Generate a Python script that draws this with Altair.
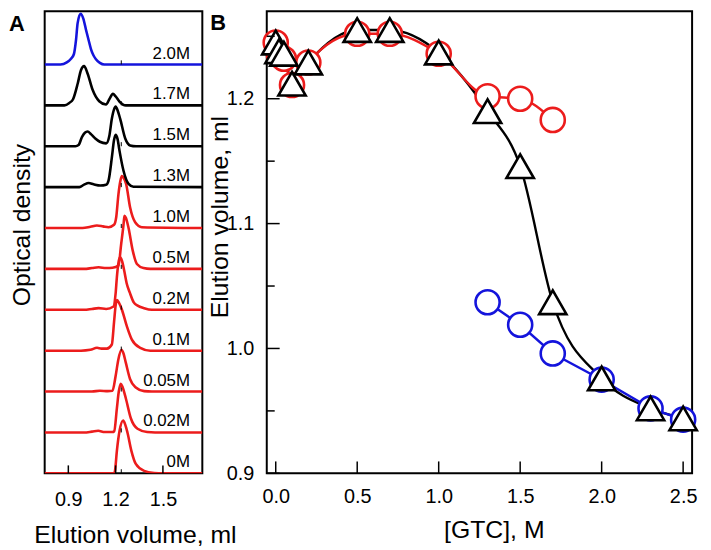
import altair as alt
import pandas as pd

FONT = "Liberation Sans"
RED = "#ec1c1c"
BLUE = "#1414dc"

# ---------------- Panel A: elution profiles (x = elution volume, ml; h = peak height) ----------------
trace_labels = ["0M", "0.02M", "0.05M", "0.1M", "0.2M", "0.5M", "1.0M", "1.3M", "1.5M", "1.7M", "2.0M"]
trace_state = ["low", "low", "low", "low", "low", "low", "low", "mid", "mid", "mid", "high"]

x_0 = [0.75, 1.15, 1.19, 1.196, 1.208, 1.225, 1.248, 1.262, 1.275, 1.30, 1.328, 1.381, 1.444, 1.50, 1.75]
h_0 = [0, 0, 0, 0.06, 0.55, 1.04, 1.29, 1.18, 1.0, 0.55, 0.23, 0.06, 0.01, 0, 0]

x_002 = [0.75, 1.0, 1.05, 1.09, 1.13, 1.18, 1.191, 1.208, 1.22, 1.233, 1.245, 1.265, 1.297, 1.339, 1.40, 1.45, 1.75]
h_002 = [0, 0, 0.02, 0.04, 0.01, 0.01, 0.03, 0.59, 1.0, 1.19, 1.1, 0.83, 0.34, 0.09, 0.01, 0, 0]

x_005 = [0.75, 1.05, 1.10, 1.15, 1.18, 1.20, 1.217, 1.237, 1.25, 1.265, 1.292, 1.328, 1.381, 1.43, 1.75]
h_005 = [0, 0, 0.02, 0.01, 0.02, 0.38, 0.78, 1.02, 0.93, 0.7, 0.3, 0.1, 0.01, 0, 0]

x_01 = [0.75, 0.98, 1.04, 1.082, 1.11, 1.145, 1.176, 1.19, 1.20, 1.208, 1.22, 1.24, 1.271, 1.303, 1.356, 1.42, 1.75]
h_01 = [0, 0, 0.02, 0.07, 0.05, 0.05, 0.15, 0.7, 1.1, 1.24, 1.18, 1.0, 0.6, 0.27, 0.07, 0, 0]

x_02 = [0.75, 1.0, 1.05, 1.092, 1.14, 1.187, 1.20, 1.208, 1.218, 1.228, 1.24, 1.255, 1.27, 1.29, 1.315, 1.34, 1.38, 1.43, 1.75]
h_02 = [0, 0, 0.02, 0.04, 0.02, 0.08, 0.4, 0.8, 1.15, 1.29, 1.2, 0.95, 0.65, 0.42, 0.18, 0.1, 0.04, 0, 0]

x_05 = [0.75, 1.0, 1.05, 1.092, 1.14, 1.18, 1.218, 1.235, 1.25, 1.256, 1.265, 1.282, 1.309, 1.335, 1.377, 1.42, 1.75]
h_05 = [0, 0, 0.02, 0.04, 0.02, 0.03, 0.08, 0.6, 1.08, 1.3, 1.25, 1.0, 0.44, 0.12, 0.02, 0, 0]

x_10 = [0.75, 0.99, 1.04, 1.081, 1.12, 1.155, 1.19, 1.204, 1.218, 1.23, 1.24, 1.252, 1.267, 1.292, 1.324, 1.366, 1.75]
h_10 = [0, 0, 0.03, 0.06, 0.04, 0.02, 0.08, 0.27, 0.83, 1.15, 1.27, 1.22, 1.07, 0.5, 0.14, 0.02, 0]

x_13 = [0.75, 0.97, 1.0, 1.029, 1.06, 1.103, 1.14, 1.155, 1.176, 1.19, 1.20, 1.212, 1.225, 1.25, 1.282, 1.313, 1.75]
h_13 = [0, 0, 0.06, 0.1, 0.07, 0.04, 0.06, 0.16, 0.72, 1.15, 1.28, 1.18, 0.88, 0.4, 0.08, 0.01, 0]

x_15 = [0.75, 0.945, 0.965, 0.987, 1.005, 1.022, 1.045, 1.071, 1.10, 1.14, 1.16, 1.176, 1.19, 1.20, 1.215, 1.229, 1.261, 1.292, 1.33, 1.75]
h_15 = [0, 0, 0.03, 0.23, 0.33, 0.36, 0.29, 0.19, 0.11, 0.07, 0.25, 0.67, 0.9, 0.97, 0.85, 0.67, 0.19, 0.02, 0, 0]

x_17 = [0.75, 0.875, 0.906, 0.93, 0.96, 0.98, 1.0, 1.022, 1.054, 1.096, 1.139, 1.16, 1.183, 1.20, 1.223, 1.265, 1.75]
h_17 = [0, 0, 0.06, 0.15, 0.54, 0.86, 0.96, 0.78, 0.38, 0.1, 0.02, 0.15, 0.28, 0.22, 0.1, 0, 0]

x_20 = [0.75, 0.85, 0.89, 0.917, 0.935, 0.949, 0.959, 0.978, 0.995, 1.012, 1.033, 1.044, 1.06, 1.075, 1.10, 1.128, 1.75]
h_20 = [0, 0, 0.05, 0.14, 0.25, 0.61, 1.01, 1.24, 1.12, 0.85, 0.53, 0.37, 0.22, 0.13, 0.04, 0, 0]

trace_x = [x_0, x_002, x_005, x_01, x_02, x_05, x_10, x_13, x_15, x_17, x_20]
trace_h = [h_0, h_002, h_005, h_01, h_02, h_05, h_10, h_13, h_15, h_17, h_20]

native_peak = 1.236            # small reference mark drawn on every baseline
a_ticks = [0.9, 1.2, 1.5]

# ---------------- Panel B: elution volume vs [GTC] ----------------
gtc_red = [0.0, 0.02, 0.05, 0.1, 0.2, 0.5, 0.7, 1.0, 1.3, 1.5, 1.7]
ve_red = [1.245, 1.235, 1.232, 1.211, 1.229, 1.252, 1.252, 1.236, 1.202, 1.200, 1.183]
gtc_blue = [1.3, 1.5, 1.7, 2.0, 2.3, 2.5]
ve_blue = [1.037, 1.019, 0.996, 0.975, 0.952, 0.943]
gtc_tri = [0.0, 0.02, 0.05, 0.1, 0.2, 0.5, 0.7, 1.0, 1.3, 1.5, 1.7, 2.0, 2.3, 2.5]
ve_tri = [1.245, 1.238, 1.236, 1.212, 1.229, 1.255, 1.255, 1.237, 1.190, 1.146, 1.037, 0.976, 0.952, 0.944]

b_xticks = [0.0, 0.5, 1.0, 1.5, 2.0, 2.5]
b_yticks = [0.9, 1.0, 1.1, 1.2]
b_yminor = [0.95, 1.05, 1.15, 1.25]

# ---------------- build tables ----------------
rows = []
for i, (xs, hs) in enumerate(zip(trace_x, trace_h)):
    for xv, hv in zip(xs, hs):
        rows.append({"trace": trace_labels[i], "state": trace_state[i], "x": xv, "y": i + hv})
df_tr = pd.DataFrame(rows)
df_lab = pd.DataFrame({"label": trace_labels, "x": [1.672] * len(trace_labels), "y": list(range(len(trace_labels)))})
df_mk = pd.DataFrame({"x": [native_peak] * len(trace_labels),
                      "y": [float(i) for i in range(len(trace_labels))],
                      "y2": [i + 0.1 for i in range(len(trace_labels))]})

W_A, W_B, H = 159, 429, 466

xA_scale = alt.Scale(domain=[0.75, 1.75], nice=False, zero=False)
yA_scale = alt.Scale(domain=[0, 11.3], nice=False, zero=False)

xA_axis = alt.Axis(values=a_ticks, format=".1f", ticks=False, domain=False, grid=False,
                   labelPadding=16, labelFontSize=20, title="Elution volume, ml",
                   titlePadding=14, titleFontSize=25, titleX=91)
yA_axis = alt.Axis(labels=False, ticks=False, domain=False, grid=False,
                   title="Optical density", titleFontSize=25, titleX=-15.5, titleY=215,
                   titleBaseline="alphabetic")
xA = alt.X("x:Q", scale=xA_scale, axis=xA_axis)
yA = alt.Y("y:Q", scale=yA_scale, axis=yA_axis)

traces = alt.Chart(df_tr).mark_line(strokeWidth=2.6, interpolate="monotone", clip=True).encode(
    x=xA, y=yA, detail="trace:N",
    color=alt.Color("state:N", scale=alt.Scale(domain=["low", "mid", "high"], range=[RED, "black", BLUE]),
                    legend=None))

marks_A = alt.Chart(df_mk).mark_rule(color="black", strokeWidth=1).encode(x=xA, y=yA, y2="y2:Q")

labels_A = alt.Chart(df_lab).mark_text(align="right", baseline="alphabetic", dy=-6, fontSize=17,
                                       font=FONT, color="black").encode(x=xA, y=yA, text="label:N")

ticks_A = alt.Chart(pd.DataFrame({"x": a_ticks})).mark_rule(color="black", strokeWidth=1.5).encode(
    x=xA, y=alt.value(H), y2=alt.value(H - 8))

letter_A = alt.Chart(pd.DataFrame({"t": ["A"]})).mark_text(
    align="left", baseline="alphabetic", fontSize=22, fontWeight="bold", font=FONT, color="black").encode(
    text="t:N", x=alt.value(-36), y=alt.value(20))

panel_A = alt.layer(traces, marks_A, labels_A, ticks_A, letter_A).properties(width=W_A, height=H)

# ---------------- Panel B ----------------
df_red = pd.DataFrame({"g": gtc_red, "v": ve_red})
df_blue = pd.DataFrame({"g": gtc_blue, "v": ve_blue})
df_tri = pd.DataFrame({"g": gtc_tri, "v": ve_tri})

xB_scale = alt.Scale(domain=[-0.055, 2.555], nice=False, zero=False)
yB_scale = alt.Scale(domain=[0.9, 1.27], nice=False, zero=False)

xB_axis = alt.Axis(values=b_xticks, format=".1f", ticks=False, domain=False, grid=False,
                   labelPadding=13, labelFontSize=20, title="[GTC], M",
                   titlePadding=12, titleFontSize=25, titleX=229)
yB_axis = alt.Axis(values=b_yticks, format=".1f", ticks=False, domain=False, grid=False,
                   labelPadding=13, labelFontSize=20, title="Elution volume, ml",
                   titleFontSize=25, titleX=-39.5, titleY=207, titleBaseline="alphabetic")
xB = alt.X("g:Q", scale=xB_scale, axis=xB_axis)
yB = alt.Y("v:Q", scale=yB_scale, axis=yB_axis)

line_black = alt.Chart(df_tri).mark_line(color="black", strokeWidth=2.4, interpolate="monotone").encode(x=xB, y=yB)
line_blue = alt.Chart(df_blue).mark_line(color=BLUE, strokeWidth=2.4).encode(x=xB, y=yB)
line_red = alt.Chart(df_red).mark_line(color=RED, strokeWidth=2.4, interpolate="monotone").encode(x=xB, y=yB)
pts_red = alt.Chart(df_red).mark_point(shape="circle", size=590, filled=False, fill="white", fillOpacity=1,
                                       stroke=RED, strokeWidth=2.6, opacity=1).encode(x=xB, y=yB)
pts_blue = alt.Chart(df_blue).mark_point(shape="circle", size=590, filled=False, fill="white", fillOpacity=1,
                                         stroke=BLUE, strokeWidth=2.6, opacity=1).encode(x=xB, y=yB)
pts_tri = alt.Chart(df_tri).mark_point(shape="triangle-up", size=760, filled=False, fill="white", fillOpacity=1,
                                       stroke="black", strokeWidth=2.6, opacity=1).encode(x=xB, y=yB)

ticks_Bx = alt.Chart(pd.DataFrame({"g": b_xticks})).mark_rule(color="black", strokeWidth=1.5).encode(
    x=xB, y=alt.value(H), y2=alt.value(H - 12))
ticks_By = alt.Chart(pd.DataFrame({"v": b_yticks})).mark_rule(color="black", strokeWidth=1.5).encode(
    y=yB, x=alt.value(0), x2=alt.value(13))
ticks_Bm = alt.Chart(pd.DataFrame({"v": b_yminor})).mark_rule(color="black", strokeWidth=1.5).encode(
    y=yB, x=alt.value(0), x2=alt.value(8))

letter_B = alt.Chart(pd.DataFrame({"t": ["B"]})).mark_text(
    align="left", baseline="alphabetic", fontSize=22, fontWeight="bold", font=FONT, color="black").encode(
    text="t:N", x=alt.value(-57), y=alt.value(19))

panel_B = alt.layer(line_black, line_blue, line_red, pts_red, pts_blue, pts_tri,
                    ticks_Bx, ticks_By, ticks_Bm, letter_B).properties(width=W_B, height=H)

chart = alt.hconcat(panel_A, panel_B, spacing=65, bounds="flush").properties(padding=0).configure_view(
    stroke="black", strokeWidth=2).configure_axis(
    labelFont=FONT, titleFont=FONT, labelColor="black", titleColor="black", titleFontWeight="normal").configure_text(
    font=FONT)

chart.save("out.html", embed_options={"renderer": "svg", "actions": False})
